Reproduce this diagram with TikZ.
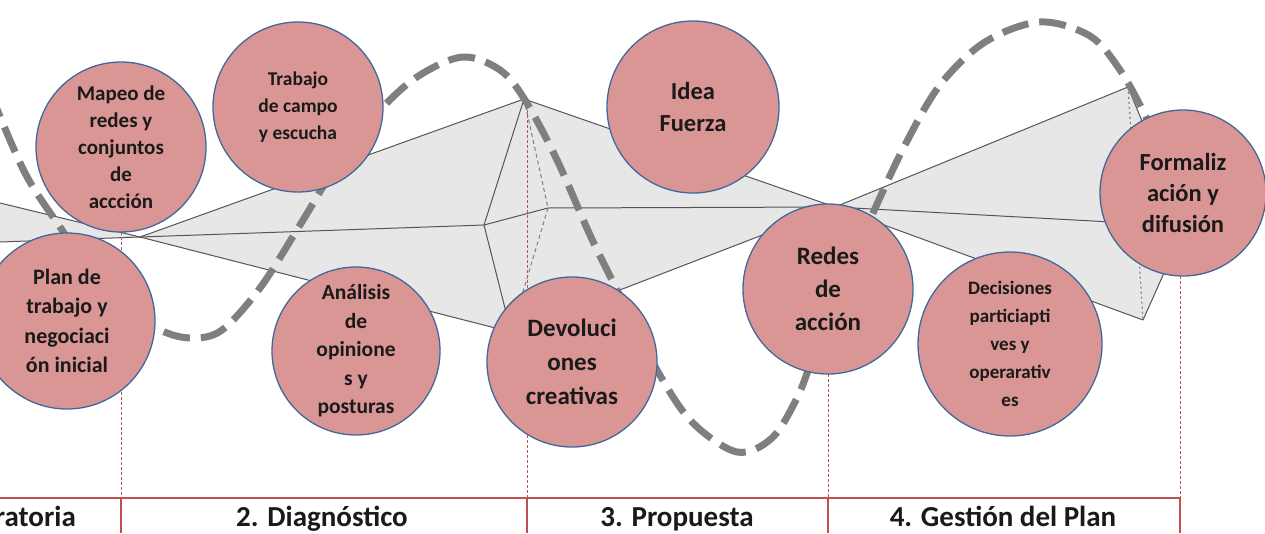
\documentclass[tikz,border=0pt]{standalone}
\usepackage{fontspec}
\setmainfont{Carlito}
\definecolor{circfill}{HTML}{D99694}
\definecolor{circline}{HTML}{41689C}
\definecolor{polyfill}{HTML}{E7E7E7}
\definecolor{polyline}{HTML}{555555}
\definecolor{wavegray}{HTML}{7F7F7F}
\definecolor{redline}{HTML}{C0504D}
\definecolor{txt}{HTML}{1A1A1A}
\tikzset{
  stagecirc/.style={circle, fill=circfill, draw=circline, line width=1.3pt, inner sep=0pt, align=center, text=txt},
  edgeline/.style={draw=polyline, line width=1pt},
  hiddenedge/.style={draw=wavegray, line width=1pt, dash pattern=on 4pt off 3pt},
  dottededge/.style={draw=wavegray, line width=1.2pt, dash pattern=on 2pt off 3pt},
  wavepath/.style={draw=wavegray, line width=7pt, dash pattern=on 27pt off 11pt},
  reddash/.style={draw=redline, line width=1pt, dash pattern=on 3pt off 2pt},
  redsolid/.style={draw=redline, line width=1.3pt},
  phase/.style={font=\bfseries\fontsize{29}{32}\selectfont, anchor=base, inner sep=0pt, text=txt},
}
\newcommand{\fsz}[2]{\bfseries\fontsize{#1}{#2}\selectfont}
\begin{document}
\begin{tikzpicture}[x=1pt,y=-1pt]
\clip (0,0) rectangle (1265,533);
\fill[white] (0,0) rectangle (1265,533);
% polygon points
\coordinate (L1) at (0,203);
\coordinate (L2) at (0,242);
\coordinate (P1) at (140,237);
\coordinate (A) at (524,99);
\coordinate (B) at (484,225);
\coordinate (D) at (548,208);
\coordinate (E) at (511,332);
\coordinate (M) at (835,207);
\coordinate (R2) at (1128,87);
\coordinate (F) at (1185,226);
\coordinate (R4) at (1143,320);
% fills
\fill[polyfill] (L1) -- (P1) -- (L2) -- cycle;
\fill[polyfill] (P1) -- (A) -- (M) -- (E) -- cycle;
\fill[polyfill] (M) -- (R2) -- (F) -- (R4) -- cycle;
% edges
\draw[edgeline] (L1) -- (P1);
\draw[edgeline] (L2) -- (P1);
\draw[edgeline] (P1) -- (A);
\draw[edgeline] (P1) -- (B);
\draw[edgeline] (P1) -- (E);
\draw[edgeline] (A) -- (B);
\draw[edgeline] (B) -- (E);
\draw[edgeline] (B) -- (D);
\draw[edgeline] (D) -- (M);
\draw[edgeline] (A) -- (M);
\draw[edgeline] (E) -- (M);
\draw[hiddenedge] (A) -- (D);
\draw[hiddenedge] (D) -- (E);
\draw[edgeline] (M) -- (R2);
\draw[edgeline] (M) -- (F);
\draw[edgeline] (M) -- (R4);
\draw[edgeline] (R2) -- (F);
\draw[edgeline] (F) -- (R4);
\draw[dottededge] (R2) -- (R4);
% red phase lines
\coordinate (V1t) at (121,232);
\coordinate (V1m) at (121,498);
\coordinate (V1b) at (121,533);
\coordinate (V2t) at (527,100);
\coordinate (V2m) at (527,498);
\coordinate (V2b) at (527,533);
\coordinate (V3t) at (828,374);
\coordinate (V3m) at (828,498);
\coordinate (V3b) at (828,533);
\coordinate (V4t) at (1180,276);
\coordinate (V4m) at (1180,498);
\coordinate (V4b) at (1180,533);
\coordinate (H0) at (0,498);
\draw[reddash] (V1t) -- (V1m);
\draw[reddash] (V2t) -- (V2m);
\draw[reddash] (V3t) -- (V3m);
\draw[reddash] (V4t) -- (V4m);
\draw[redsolid] (H0) -- (V4m);
\draw[redsolid] (V1m) -- (V1b);
\draw[redsolid] (V2m) -- (V2b);
\draw[redsolid] (V3m) -- (V3b);
\draw[redsolid] (V4m) -- (V4b);
% wave
\draw[wavepath] plot[smooth, tension=0.55] coordinates {(-10,92) (25,173) (62,230) (110,300) (160,330) (192,338) (222,330) (260,288) (300,225) (340,160) (383,107) (420,75) (463,57) (500,70) (525,100) (557,160) (590,235) (617,290) (657,370) (692,422) (737,452) (772,438) (797,398) (812,360) (840,290) (873,213) (905,145) (940,85) (985,42) (1040,22) (1090,36) (1120,70) (1145,115) (1165,160)};
% circles
\node[stagecirc, minimum size=170pt, font=\fsz{21}{27}] (mapeo) at (121,147) {Mapeo de\\redes y\\conjuntos\\de\\accción};
\node[stagecirc, minimum size=176pt, font=\fsz{22}{29.5}] (plan) at (67,321) {Plan de\\trabajo y\\negociaci\\ón inicial};
\node[stagecirc, minimum size=170pt, font=\fsz{19.5}{27}] (trabajo) at (298,107) {Trabajo\\de campo\\y escucha};
\node[stagecirc, minimum size=168pt, font=\fsz{21.5}{28.5}] (analisis) at (356,351) {Análisis\\de\\opinione\\s y\\posturas};
\node[stagecirc, minimum size=170pt, font=\fsz{25}{34}] (devol) at (572,362) {Devoluci\\ones\\creativas};
\node[stagecirc, minimum size=172pt, font=\fsz{24.5}{32}] (idea) at (693,107) {Idea\\Fuerza};
\node[stagecirc, minimum size=170pt, font=\fsz{25}{33}] (redes) at (828,289) {Redes\\de\\acción};
\node[stagecirc, minimum size=184pt, font=\fsz{19}{28}] (decis) at (1010,344) {Decisiones\\particiapti\\ves y\\operarativ\\es};
\node[stagecirc, minimum size=166pt, font=\fsz{24.5}{31}] (formal) at (1183,193) {Formaliz\\ación y\\difusión};
% phase labels
\node[phase, anchor=base east] (ph1) at (76,526) {ratoria};
\node[phase] (ph2) at (322,526) {2. Diagnóstico};
\node[phase] (ph3) at (677,526) {3. Propuesta};
\node[phase] (ph4) at (1003,526) {4. Gestión del Plan};
\end{tikzpicture}
\end{document}
